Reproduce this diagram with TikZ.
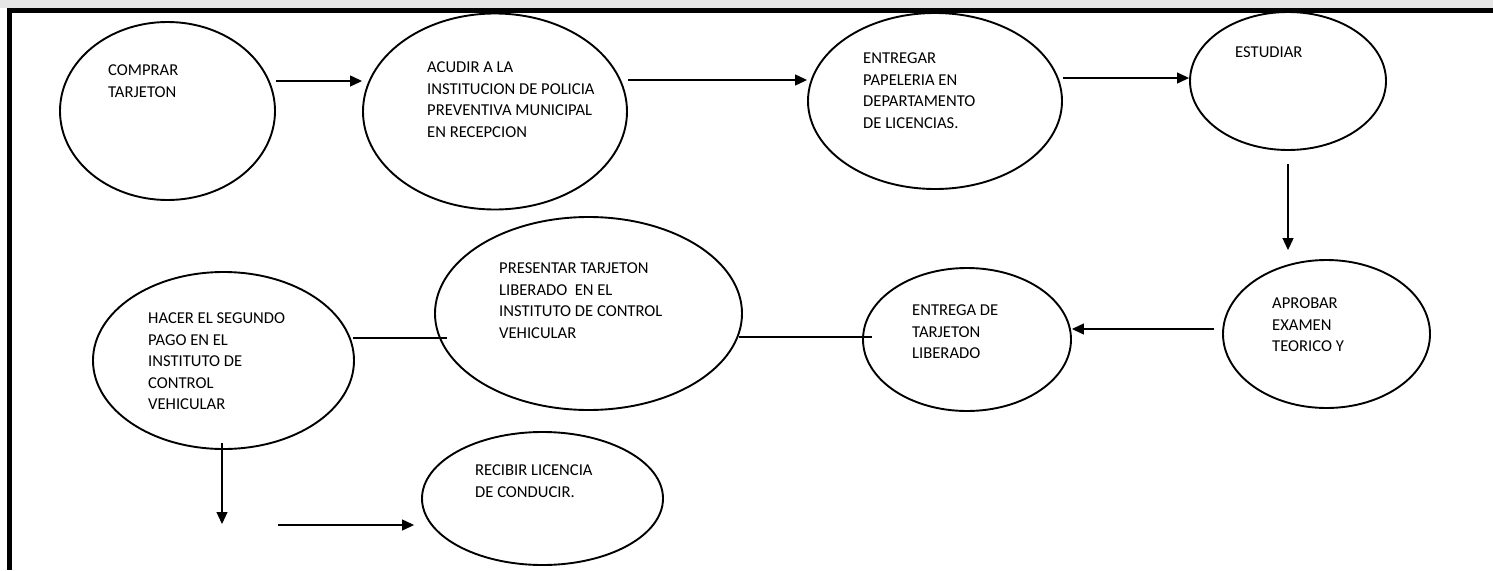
\documentclass[tikz,border=0pt]{standalone}
\usepackage{fontspec}
\setmainfont{Carlito}
\usetikzlibrary{calc,shapes.geometric,arrows.meta}
\colorlet{bandgray}{black!10}

\begin{document}
\begin{tikzpicture}[x=1pt,y=-1pt,
    paso/.style={ellipse,draw,line width=1.9pt,inner sep=0pt},
    texto/.style={anchor=north west,align=left,inner sep=0pt,font=\fontsize{16.6pt}{21.5pt}\selectfont},
    flecha/.style={line width=1.2pt,-{Triangle[length=12pt,width=11pt]}},
    enlace/.style={line width=1.2pt}]
            \useasboundingbox (0,0) rectangle (1493,570);
            % frame
            \fill[bandgray] (0,0) rectangle (1493,8);
            \fill (7,8) rectangle (1493,13);
            \fill (7,8) rectangle (12,570);
            % coordinates
            \coordinate (row1) at (0,81);
            \coordinate (row2) at (0,80);
            \coordinate (row3) at (0,78);
            \coordinate (row5) at (0,329);
            \coordinate (row6) at (0,337);
            \coordinate (row7) at (0,338);
            \coordinate (pie) at (222,524); % free end below hacer
            \coordinate (inicio) at (278,525); % free start towards recibir
            % ellipses
            \node[paso,minimum width=215,minimum height=178] (comprar) at (167.5,111) {};
            \node[paso,minimum width=264,minimum height=196] (acudir) at (495,111.5) {};
            \node[paso,minimum width=254,minimum height=176] (entregar) at (935,101) {};
            \node[paso,minimum width=196,minimum height=138] (estudiar) at (1288,81) {};
            \node[paso,minimum width=207,minimum height=148] (aprobar) at (1326.5,334) {};
            \node[paso,minimum width=208,minimum height=143] (entrega) at (967,339.5) {};
            \node[paso,minimum width=307,minimum height=193] (presentar) at (588.5,313.5) {};
            \node[paso,minimum width=261,minimum height=177] (hacer) at (223.5,360.5) {};
            \node[paso,minimum width=241,minimum height=133] (recibir) at (542.5,498.5) {};
            % texts
            \node[texto] (comprar-t) at (108,65) {COMPRAR\\TARJETON};
            \node[texto] (acudir-t) at (427,62) {ACUDIR A LA\\INSTITUCION DE POLICIA\\PREVENTIVA MUNICIPAL\\EN RECEPCION};
            \node[texto] (entregar-t) at (863,53) {ENTREGAR\\PAPELERIA EN\\DEPARTAMENTO\\DE LICENCIAS.};
            \node[texto] (estudiar-t) at (1235,47) {ESTUDIAR};
            \node[texto] (aprobar-t) at (1272,298) {APROBAR\\EXAMEN\\TEORICO Y};
            \node[texto] (entrega-t) at (912,305) {ENTREGA DE\\TARJETON\\LIBERADO};
            \node[texto] (presentar-t) at (499,263) {PRESENTAR TARJETON\\LIBERADO~ EN EL\\INSTITUTO DE CONTROL\\VEHICULAR};
            \node[texto] (hacer-t) at (148,313) {HACER EL SEGUNDO\\PAGO EN EL\\INSTITUTO DE\\CONTROL\\VEHICULAR};
            \node[texto] (recibir-t) at (475,465) {RECIBIR LICENCIA\\DE CONDUCIR.};
            % top row arrows
            \draw[flecha] (comprar.east |- row1) -- (acudir.west |- row1);
            \draw[flecha] (acudir.east |- row2) -- (entregar.west |- row2);
            \draw[flecha] (entregar.east |- row3) -- (estudiar.west |- row3);
            \draw[flecha,shorten <=13pt,shorten >=9pt] (estudiar.south) -- (estudiar.south |- aprobar.north);
            % middle row
            \draw[flecha,shorten <=8pt] (aprobar.west |- row5) -- (entrega.east |- row5);
            \draw[enlace,shorten <=-4pt,shorten >=-10pt] (presentar.east |- row6) -- (entrega.west |- row6);
            \draw[enlace,shorten <=-2pt,shorten >=-13pt] (hacer.east |- row7) -- (presentar.west |- row7);
            % bottom arrows
            \draw[flecha,shorten <=-7pt] (pie |- hacer.south) -- (pie);
            \draw[flecha,shorten >=7pt] (inicio) -- (recibir.west |- inicio);
\end{tikzpicture}
\end{document}
